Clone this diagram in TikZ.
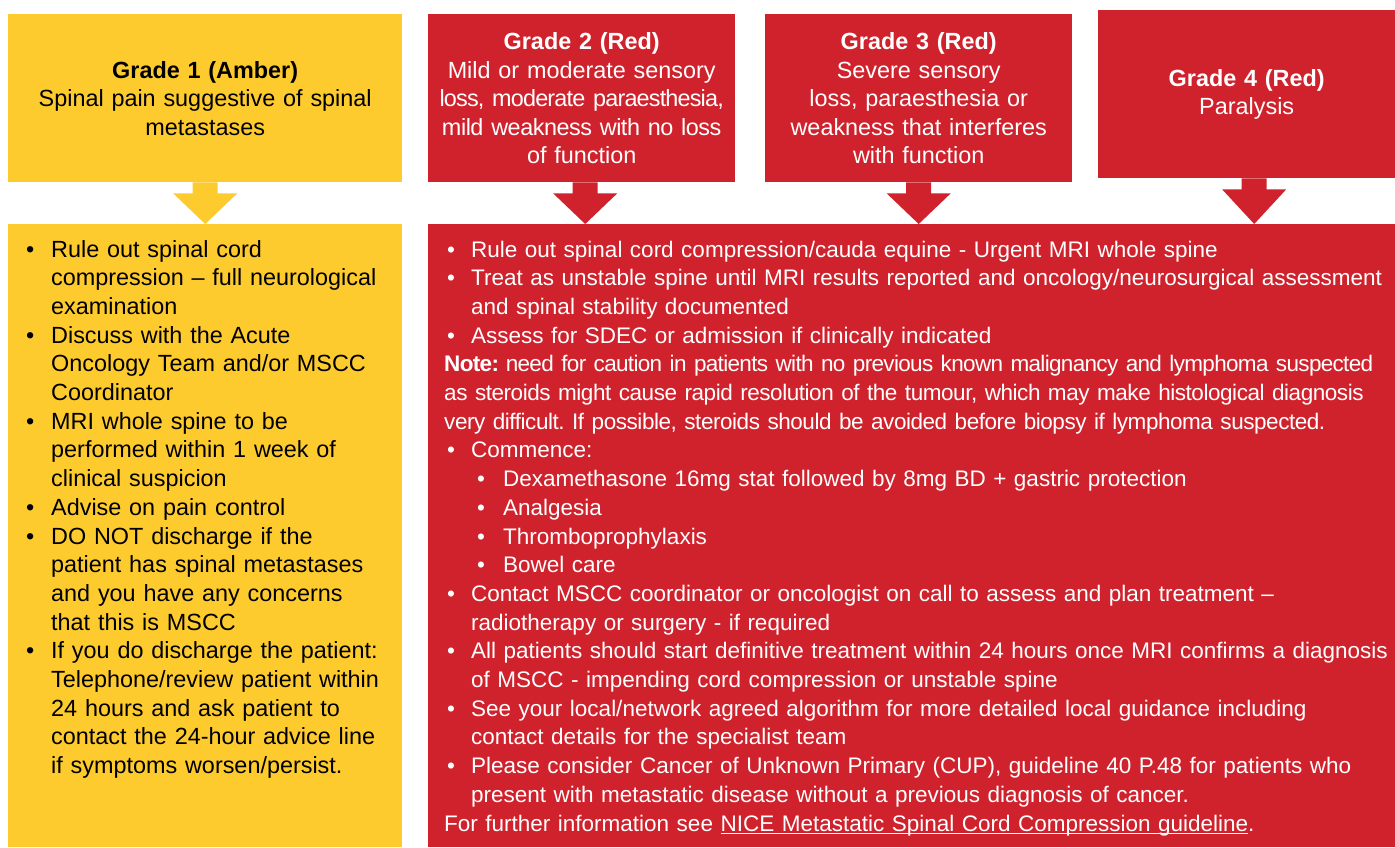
\documentclass[tikz,border=0pt]{standalone}
\usepackage{fontspec}
\setmainfont{Liberation Sans}
\usepackage{tikz}
\usetikzlibrary{calc}

\definecolor{amber}{RGB}{254,203,47}
\definecolor{mscred}{RGB}{208,34,44}

% one bullet line: bullet offset, text offset, text
\newcommand{\listentry}[3]{\hangindent=#2\hangafter=1\noindent\hbox to #2{\hskip#1\textbullet\hfil}#3\par}
\newcommand{\ulink}[1]{\setbox0\hbox{#1}\rlap{\rule[-3pt]{\wd0}{1.1pt}}\box0}
\newcommand{\tight}[2]{{\addfontfeatures{LetterSpace=#1}#2}}

% block arrow from a grade box down to a list box
\newcommand{\gradearrow}[4]{%
  \fill[#4] ($(#1.south)+(#3-12.5,0)$) -- ++(0,11) -- ++(-19.5,0)
    -- ($(#1.south |- #2.north)+(#3,0)$)
    -- ($(#1.south)+(#3+32,11)$) -- ++(-19.5,0) -- ++(0,-11) -- cycle;}

\begin{document}
\frenchspacing
\begin{tikzpicture}[x=1pt, y=-1pt,
    gradebox/.style={rectangle, inner sep=0pt, minimum height=168pt, align=center,
      font=\fontsize{23.4}{28.5}\selectfont},
    listbox/.style={rectangle, inner sep=0pt, minimum height=623pt},
    listtext/.style={inner sep=0pt, anchor=base west}]
\useasboundingbox (0,0) rectangle (1395,847);

% grade boxes
\node[gradebox, fill=amber, minimum width=394pt, text width=370pt, anchor=north west] (g1) at (8,14)
  {\textbf{Grade 1 (Amber)}\\Spinal pain suggestive of spinal\\metastases};
\node[gradebox, fill=mscred, text=white, minimum width=307pt, text width=300pt, anchor=north west] (g2) at (428,14)
  {\textbf{Grade 2 (Red)}\\Mild or moderate sensory\\\tight{-3.5}{loss, moderate paraesthesia,}\\\tight{-2}{mild weakness with no loss}\\of function};
\node[gradebox, fill=mscred, text=white, minimum width=307pt, text width=300pt, anchor=north west] (g3) at (765,14)
  {\textbf{Grade 3 (Red)}\\Severe sensory\\loss, paraesthesia or\\weakness that interferes\\with function};
\node[gradebox, fill=mscred, text=white, minimum width=297pt, text width=285pt, anchor=north west] (g4) at (1098,10)
  {\textbf{Grade 4 (Red)}\\Paralysis};

% action boxes
\node[listbox, fill=amber, minimum width=394pt, anchor=north west] (act1) at (8,224) {};
\node[listbox, fill=mscred, minimum width=967pt, anchor=north west] (act2) at (428,224) {};

% arrows
\gradearrow{g1}{act1}{0}{amber}
\gradearrow{g2}{act2}{3.5}{mscred}
\gradearrow{g3}{act2}{0}{mscred}
\gradearrow{g4}{act2}{7.5}{mscred}

% amber list
\node[listtext, text width=376pt, font=\fontsize{23.4}{28.7}\selectfont] (txt1) at (26,257) {%
  \listentry{0pt}{25pt}{Rule out spinal cord\newline compression \textendash{} full neurological\newline examination}
  \listentry{0pt}{25pt}{Discuss with the Acute\newline Oncology Team and/or MSCC\newline Coordinator}
  \listentry{0pt}{25pt}{MRI whole spine to be\newline performed within 1 week of\newline clinical suspicion}
  \listentry{0pt}{25pt}{Advise on pain control}
  \listentry{0pt}{25pt}{DO NOT discharge if the\newline patient has spinal metastases\newline and you have any concerns\newline that this is MSCC}
  \listentry{0pt}{25pt}{If you do discharge the patient:\newline Telephone/review patient within\newline 24 hours and ask patient to\newline contact the 24-hour advice line\newline if symptoms worsen/persist.}};

% red list
\node[listtext, text=white, text width=1000pt, font=\fontsize{22.5}{28.7}\selectfont] (txt2) at (444,257) {%
  \listentry{3pt}{27pt}{Rule out spinal cord compression/cauda equine - Urgent MRI whole spine}
  \listentry{3pt}{27pt}{Treat as unstable spine until MRI results reported and oncology/neurosurgical assessment\newline and spinal stability documented}
  \listentry{3pt}{27pt}{Assess for SDEC or admission if clinically indicated}
  \noindent\tight{-3}{\textbf{Note:} need for caution in patients with no previous known malignancy and lymphoma suspected}\newline
  \tight{-2}{as steroids might cause rapid resolution of the tumour, which may make histological diagnosis}\newline
  \tight{-2}{very difficult. If possible, steroids should be avoided before biopsy if lymphoma suspected.}\par
  \listentry{3pt}{27pt}{Commence:}
  \listentry{33pt}{59pt}{Dexamethasone 16mg stat followed by 8mg BD + gastric protection}
  \listentry{33pt}{59pt}{Analgesia}
  \listentry{33pt}{59pt}{Thromboprophylaxis}
  \listentry{33pt}{59pt}{Bowel care}
  \listentry{3pt}{27pt}{Contact MSCC coordinator or oncologist on call to assess and plan treatment \textendash\newline radiotherapy or surgery - if required}
  \listentry{3pt}{27pt}{All patients should start definitive treatment within 24 hours once MRI confirms a diagnosis\newline of MSCC - impending cord compression or unstable spine}
  \listentry{3pt}{27pt}{See your local/network agreed algorithm for more detailed local guidance including\newline contact details for the specialist team}
  \listentry{3pt}{27pt}{Please consider Cancer of Unknown Primary (CUP), guideline 40 P.48 for patients who\newline present with metastatic disease without a previous diagnosis of cancer.}
  \noindent For further information see \ulink{NICE Metastatic Spinal Cord Compression guideline}.};
\end{tikzpicture}
\end{document}
